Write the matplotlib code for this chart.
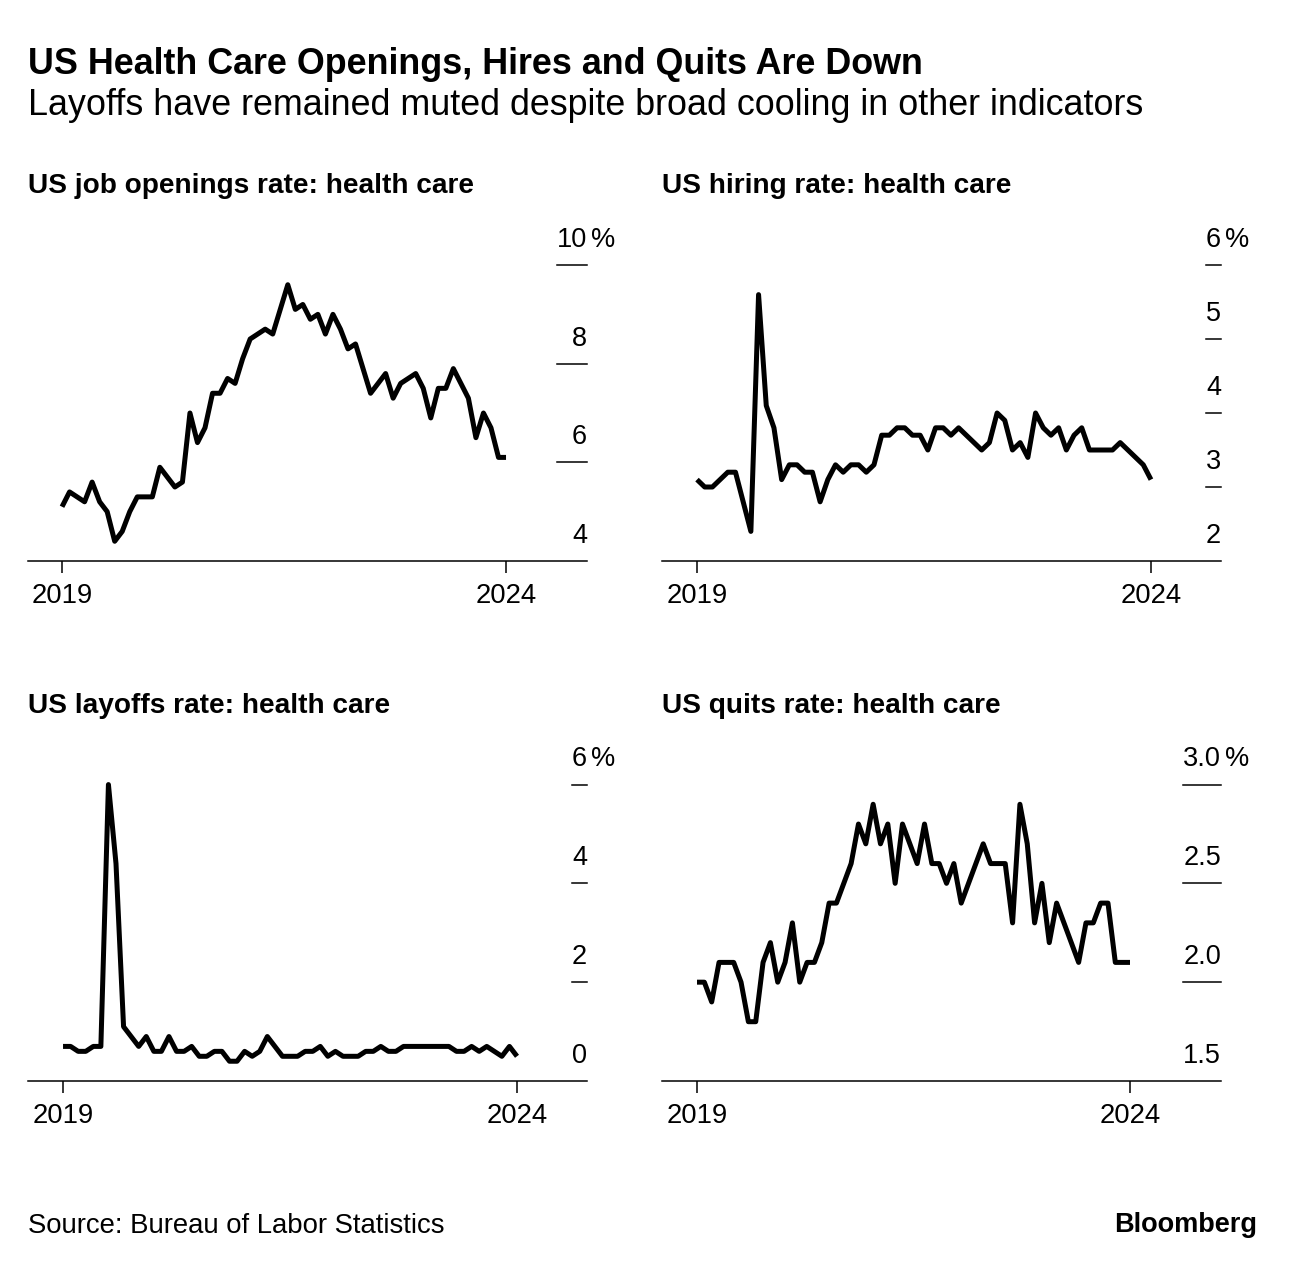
import matplotlib
matplotlib.use("Agg")
import matplotlib.pyplot as plt
import matplotlib.transforms as mtrans

plt.rcParams['font.family'] = ['Liberation Sans', 'DejaVu Sans']

# monthly rates, %
openings = [5.1, 5.4, 5.3, 5.2, 5.6, 5.2, 5.0, 4.4, 4.6, 5.0,
            5.3, 5.3, 5.3, 5.9, 5.7, 5.5, 5.6, 7.0, 6.4, 6.7,
            7.4, 7.4, 7.7, 7.6, 8.1, 8.5, 8.6, 8.7, 8.6, 9.1,
            9.6, 9.1, 9.2, 8.9, 9.0, 8.6, 9.0, 8.7, 8.3, 8.4,
            7.9, 7.4, 7.6, 7.8, 7.3, 7.6, 7.7, 7.8, 7.5, 6.9,
            7.5, 7.5, 7.9, 7.6, 7.3, 6.5, 7.0, 6.7, 6.1, 6.1]
hires = [3.1, 3.0, 3.0, 3.1, 3.2, 3.2, 2.8, 2.4, 5.6, 4.1,
         3.8, 3.1, 3.3, 3.3, 3.2, 3.2, 2.8, 3.1, 3.3, 3.2,
         3.3, 3.3, 3.2, 3.3, 3.7, 3.7, 3.8, 3.8, 3.7, 3.7,
         3.5, 3.8, 3.8, 3.7, 3.8, 3.7, 3.6, 3.5, 3.6, 4.0,
         3.9, 3.5, 3.6, 3.4, 4.0, 3.8, 3.7, 3.8, 3.5, 3.7,
         3.8, 3.5, 3.5, 3.5, 3.5, 3.6, 3.5, 3.4, 3.3, 3.1]
layoffs = [0.7, 0.7, 0.6, 0.6, 0.7, 0.7, 6.0, 4.4, 1.1, 0.9,
           0.7, 0.9, 0.6, 0.6, 0.9, 0.6, 0.6, 0.7, 0.5, 0.5,
           0.6, 0.6, 0.4, 0.4, 0.6, 0.5, 0.6, 0.9, 0.7, 0.5,
           0.5, 0.5, 0.6, 0.6, 0.7, 0.5, 0.6, 0.5, 0.5, 0.5,
           0.6, 0.6, 0.7, 0.6, 0.6, 0.7, 0.7, 0.7, 0.7, 0.7,
           0.7, 0.7, 0.6, 0.6, 0.7, 0.6, 0.7, 0.6, 0.5, 0.7,
           0.5]
quits = [2.0, 2.0, 1.9, 2.1, 2.1, 2.1, 2.0, 1.8, 1.8, 2.1,
         2.2, 2.0, 2.1, 2.3, 2.0, 2.1, 2.1, 2.2, 2.4, 2.4,
         2.5, 2.6, 2.8, 2.7, 2.9, 2.7, 2.8, 2.5, 2.8, 2.7,
         2.6, 2.8, 2.6, 2.6, 2.5, 2.6, 2.4, 2.5, 2.6, 2.7,
         2.6, 2.6, 2.6, 2.3, 2.9, 2.7, 2.3, 2.5, 2.2, 2.4,
         2.3, 2.2, 2.1, 2.3, 2.3, 2.4, 2.4, 2.1, 2.1, 2.1]

year_labels = ["2019", "2024"]

titles = ["US job openings rate: health care", "US hiring rate: health care",
          "US layoffs rate: health care", "US quits rate: health care"]
series = [openings, hires, layoffs, quits]
y_ticks = [[4, 6, 8, 10], [2, 3, 4, 5, 6], [0, 2, 4, 6], [1.5, 2.0, 2.5, 3.0]]
y_tick_labels = [["4", "6", "8", "10"], ["2", "3", "4", "5", "6"],
                 ["0", "2", "4", "6"], ["1.5", "2.0", "2.5", "3.0"]]

# layout, in pixels of the 1296x1266 picture
W, H = 1296, 1266
ylims = [(4, 10.507), (2, 6.338), (0, 6.497), (1.5, 3.124)]
xlims = [(-4.52, 69.76), (-4.55, 68.1), (-4.63, 69.25), (-4.77, 71.4)]
lefts = [28, 662, 28, 662]
bottoms = [561, 561, 1081, 1081]
title_baselines = [193, 193, 713, 713]
ax_w, ax_h = 559, 321

fig = plt.figure(figsize=(W / 100, H / 100), dpi=100)

fig.text(28 / W, 1 - 74 / H, "US Health Care Openings, Hires and Quits Are Down",
         fontsize=25.8, fontweight='bold', va='baseline')
fig.text(28 / W, 1 - 115 / H, "Layoffs have remained muted despite broad cooling in other indicators",
         fontsize=25.8, va='baseline')

axes = []
label_texts = []
for i in range(4):
    vals = series[i]
    ax = fig.add_axes([lefts[i] / W, 1 - bottoms[i] / H, ax_w / W, ax_h / H])
    ax.plot(range(len(vals)), vals, color='black', lw=3.6,
            solid_joinstyle='round', solid_capstyle='butt', clip_on=False)
    ax.set_xlim(xlims[i])
    ax.set_ylim(ylims[i])
    for s in ['top', 'right', 'left']:
        ax.spines[s].set_visible(False)
    ax.spines['bottom'].set_linewidth(1.1)
    ax.set_yticks([])
    ax.set_xticks([0, len(vals) - 1])
    ax.set_xticklabels(year_labels, fontsize=19.8)
    ax.tick_params(axis='x', length=8.5, width=1.1, pad=7)
    ax.patch.set_alpha(0)

    trans = mtrans.blended_transform_factory(ax.transAxes, ax.transData)
    texts = []
    for v, lab in zip(y_ticks[i], y_tick_labels[i]):
        t = ax.annotate(lab, xy=(1, v), xycoords=trans, xytext=(0, 13),
                        textcoords='offset points', ha='right', va='baseline',
                        fontsize=19.5)
        texts.append(t)
    ax.annotate('%', xy=(1, y_ticks[i][-1]), xycoords=trans, xytext=(3, 13),
                textcoords='offset points', ha='left', va='baseline', fontsize=19.5)

    fig.text(lefts[i] / W, 1 - title_baselines[i] / H, titles[i],
             fontsize=20.2, fontweight='bold', va='baseline')
    axes.append(ax)
    label_texts.append(texts)

# tick lines under the y labels, as wide as the widest label
fig.canvas.draw()
for i, ax in enumerate(axes):
    widest = max(t.get_window_extent().width for t in label_texts[i])
    frac = widest / ax_w
    trans = mtrans.blended_transform_factory(ax.transAxes, ax.transData)
    for v in y_ticks[i][1:]:
        ax.plot([1 - frac, 1], [v, v], color='black', lw=1.1,
                transform=trans, clip_on=False)

fig.text(28 / W, 1 - 1233 / H, "Source: Bureau of Labor Statistics",
         fontsize=19.8, va='baseline')
fig.text(1257 / W, 1 - 1232 / H, "Bloomberg", fontsize=19.5, fontweight='bold',
         ha='right', va='baseline')

fig.savefig("out.png", dpi=100)
